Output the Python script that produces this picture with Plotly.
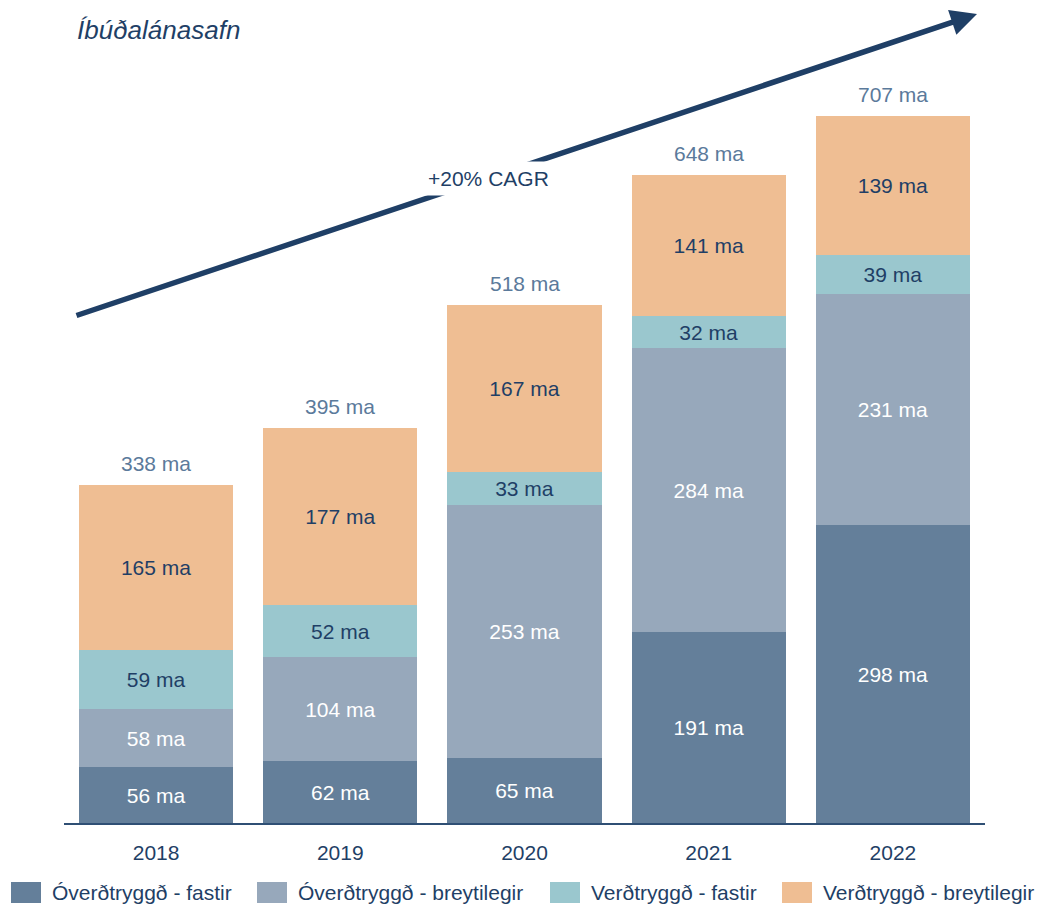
import plotly.graph_objects as go

years = ["2018", "2019", "2020", "2021", "2022"]
series_names = ["Óverðtryggð - fastir", "Óverðtryggð - breytilegir", "Verðtryggð - fastir", "Verðtryggð - breytilegir"]
ov_fastir = [56, 62, 65, 191, 298]
ov_breyt = [58, 104, 253, 284, 231]
ve_fastir = [59, 52, 33, 32, 39]
ve_breyt = [165, 177, 167, 141, 139]
totals = [338, 395, 518, 648, 707]
title_text = "Íbúðalánasafn"
cagr_text = "+20% CAGR"

colors = ["#647F9A", "#97A8BB", "#9AC7CE", "#EFBE93"]
text_colors = ["#FFFFFF", "#FFFFFF", "#1F3F66", "#1F3F66"]
NAVY = "#1F3F66"
FONT = "Liberation Sans, Arial, sans-serif"
FS = 21

W, H = 1043, 907
ML, MR, MT, MB = 64, 58, 23, 84
PW, PH = W - ML - MR, H - MT - MB

def px_x(p):
    return (p - ML) / PW

def px_y(p):
    return (H - MB - p) / PH

fig = go.Figure()
for name, vals, c, tc in zip(series_names, [ov_fastir, ov_breyt, ve_fastir, ve_breyt], colors, text_colors):
    fig.add_trace(go.Bar(
        x=years, y=vals, name=name, marker=dict(color=c, line=dict(width=0)),
        text=[f"{v} ma" for v in vals], textposition="inside", insidetextanchor="middle",
        textangle=0, textfont=dict(color=tc, size=FS, family=FONT),
        showlegend=False, hoverinfo="skip",
    ))

annotations = []
for i, t in enumerate(totals):
    annotations.append(dict(x=i, y=t, xref="x", yref="y", text=f"{t} ma", showarrow=False,
                            yanchor="bottom", yshift=8, font=dict(size=FS, color="#5B7A9B", family=FONT)))

# CAGR arrow
annotations.append(dict(x=px_x(977), y=px_y(14), xref="paper", yref="paper", text="",
                        showarrow=True, ax=75 - 977, ay=316 - 14, axref="pixel", ayref="pixel",
                        arrowhead=2, arrowsize=0.95, arrowwidth=5.5, arrowcolor=NAVY))
annotations.append(dict(x=px_x(488), y=px_y(179), xref="paper", yref="paper", text=cagr_text,
                        showarrow=False, bgcolor="white", borderpad=5, xanchor="center", yanchor="middle",
                        font=dict(size=FS, color=NAVY, family=FONT)))
# title
annotations.append(dict(x=px_x(75), y=px_y(30), xref="paper", yref="paper", text=f"<i>{title_text}</i>",
                        showarrow=False, xanchor="left", yanchor="middle",
                        font=dict(size=26, color=NAVY, family=FONT)))

# manual legend
shapes = []
leg_sq = [11, 257, 550, 782]
for name, c, x0 in zip(series_names, colors, leg_sq):
    shapes.append(dict(type="rect", xref="paper", yref="paper", x0=px_x(x0), x1=px_x(x0 + 30),
                       y0=px_y(903), y1=px_y(882), fillcolor=c, line=dict(width=0)))
    annotations.append(dict(x=px_x(x0 + 39), y=px_y(893), xref="paper", yref="paper", text=name,
                            showarrow=False, xanchor="left", yanchor="middle",
                            font=dict(size=FS, color=NAVY, family=FONT)))

fig.update_layout(
    barmode="stack", bargap=0.163,
    width=W, height=H, margin=dict(l=ML, r=MR, t=MT, b=MB),
    plot_bgcolor="white", paper_bgcolor="white",
    uniformtext=dict(minsize=FS, mode="show"),
    annotations=annotations, shapes=shapes,
    xaxis=dict(type="category", range=[-0.5, 4.5], showline=True, linecolor="#2F4F74", linewidth=2,
               showgrid=False, zeroline=False, tickfont=dict(size=FS, color=NAVY, family=FONT),
               ticks="outside", ticklen=10, tickcolor="rgba(0,0,0,0)"),
    yaxis=dict(range=[0, 800], visible=False, showgrid=False, zeroline=False),
    font=dict(family=FONT),
)
fig.write_html("out.html", config={"displayModeBar": False},
               post_script="document.body.style.margin='0';document.body.style.overflow='hidden';")
